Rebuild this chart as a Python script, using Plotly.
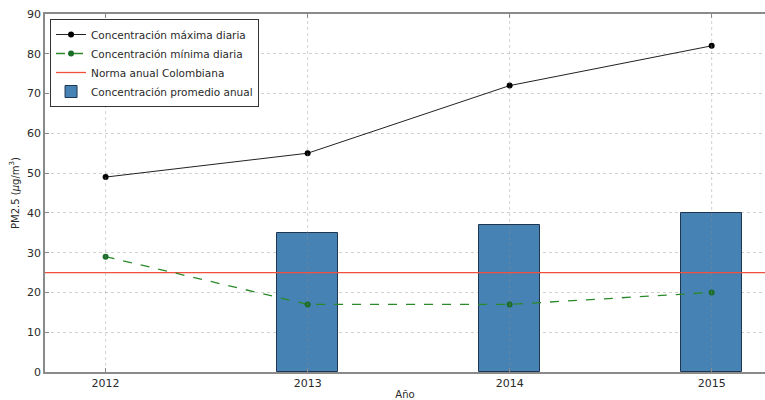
import plotly.graph_objects as go

# PM2.5 annual summary per year
years = [2012, 2013, 2014, 2015]
max_daily = [49, 55, 72, 82]
min_daily = [29, 17, 17, 20]
annual_mean_years = [2013, 2014, 2015]
annual_mean = [35, 37, 40]
norma_anual = 25

x_range = [2011.7, 2015.264]
y_range = [0, 90]
y_ticks = [0, 10, 20, 30, 40, 50, 60, 70, 80, 90]

FONT = "DejaVu Sans"
TXT = "#2a2a2a"
GRID = "rgba(140,140,140,0.4)"

fig = go.Figure()

fig.add_trace(go.Bar(
    x=annual_mean_years, y=annual_mean, width=0.3,
    name="Concentración promedio anual",
    marker=dict(color="#4682b4", line=dict(color="#1f3650", width=1)),
    legendrank=4,
))

fig.add_trace(go.Scatter(
    x=x_range, y=[norma_anual, norma_anual], mode="lines",
    name="Norma anual Colombiana",
    line=dict(color="#f0503c", width=1.3),
    legendrank=3,
))

fig.add_trace(go.Scatter(
    x=years, y=max_daily, mode="lines+markers",
    name="Concentración máxima diaria",
    line=dict(color="#222222", width=1),
    marker=dict(color="#000000", size=6),
    legendrank=1,
))

fig.add_trace(go.Scatter(
    x=years, y=min_daily, mode="lines+markers",
    name="Concentración mínima diaria",
    line=dict(color="#2a8a2a", width=1.3, dash="dash"),
    marker=dict(color="#1a6e2a", size=6),
    legendrank=2,
))

# vertical grid lines drawn over the bars
for yr in years:
    fig.add_shape(type="line", xref="x", yref="y domain",
                  x0=yr, x1=yr, y0=0, y1=1, layer="above",
                  line=dict(color=GRID, width=1, dash="dot"))

fig.update_layout(
    width=765, height=400,
    margin=dict(l=45, r=0, t=14, b=26),
    plot_bgcolor="white", paper_bgcolor="white",
    font=dict(family=FONT, size=11, color=TXT),
    bargap=0,
    legend=dict(
        x=0.007, y=0.986, xanchor="left", yanchor="top",
        bgcolor="white", bordercolor="#333333", borderwidth=1,
        font=dict(family=FONT, size=10.5, color=TXT),
        tracegroupgap=0, itemwidth=30,
    ),
    xaxis=dict(
        range=x_range, tickmode="array", tickvals=years,
        ticktext=[str(y) for y in years],
        showgrid=False, zeroline=False,
        showline=True, linecolor="#8a8a8a", linewidth=1.5, mirror="ticks",
        ticks="inside", ticklen=4, tickcolor="#8a8a8a",
        title=dict(text="Año", font=dict(size=10, color=TXT), standoff=3),
        tickfont=dict(size=11, color=TXT),
    ),
    yaxis=dict(
        range=y_range, tickmode="array", tickvals=y_ticks,
        showgrid=True, gridcolor=GRID, griddash="dot", gridwidth=1,
        zeroline=False,
        showline=True, linecolor="#8a8a8a", linewidth=1.5, mirror=False,
        ticks="inside", ticklen=4, tickcolor="#8a8a8a",
        title=dict(text="PM2.5 (<i>μ</i>g/m<sup>3</sup>)", font=dict(size=10, color=TXT), standoff=6),
        tickfont=dict(size=11, color=TXT),
    ),
)

fig.write_html("out.html")
